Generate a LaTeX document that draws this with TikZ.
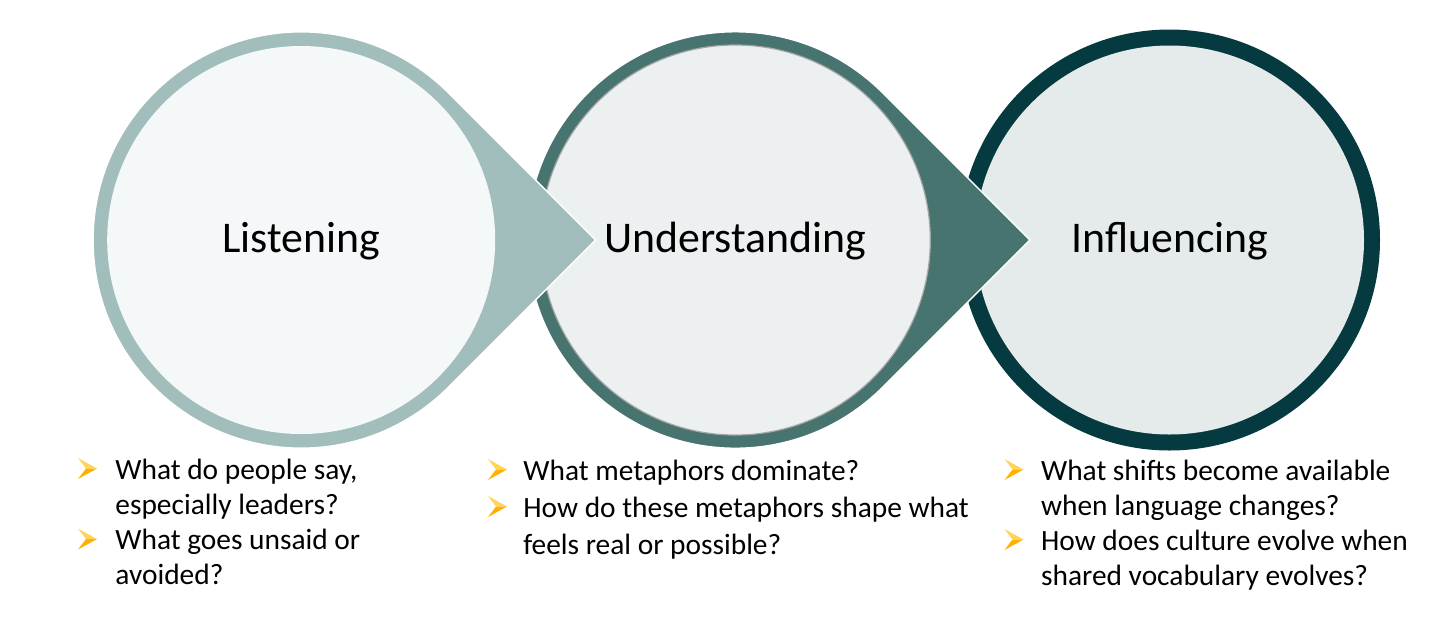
\documentclass[tikz,border=0pt]{standalone}
\usepackage{fontspec}
\setmainfont{Carlito}
\definecolor{ringA}{HTML}{A1BEBC}
\definecolor{inA}{HTML}{F4F8F8}
\definecolor{ringB}{HTML}{487470}
\definecolor{inB}{HTML}{ECF0F1}
\definecolor{ringC}{HTML}{053A40}
\definecolor{inC}{HTML}{E5EBEB}
\definecolor{bulA}{HTML}{FFD45A}
\definecolor{bulB}{HTML}{FFB000}
\newcommand\mybul[2]{%
  \fill[bulA] (#1-19,#2-10.5) -- (#1,#2) -- (#1-11,#2) -- cycle;
  \fill[bulB] (#1-19,#2+10.5) -- (#1,#2) -- (#1-11,#2) -- cycle;}
\begin{document}
\begin{tikzpicture}[x=0.5pt,y=-0.5pt,
  title/.style={font=\fontsize{21.9}{26}\selectfont, anchor=base, inner sep=0pt},
  item/.style={font=\fontsize{14.7}{17.5}\selectfont, anchor=base west, inner sep=0pt}]
\useasboundingbox[fill=white] (0,0) rectangle (1456,617);

% circle 3
\fill[ringC] (1169.5,240) circle[radius=210.5];
\fill[inC] (1169.5,240) circle[radius=194.5];

% circle 2 teardrop
\filldraw[fill=ringB, draw=white, line width=0.75pt]
  (735.3,240) ++(45:208.3)
  arc[start angle=45, end angle=315, radius=208.3]
  -- (1029.9,240) -- cycle;
\filldraw[fill=inB, draw=black!35, line width=0.6pt]
  (735.3,240) circle[radius=195];

% circle 1 teardrop
\filldraw[fill=ringA, draw=white, line width=0.75pt]
  (301.2,240) ++(45:208.2)
  arc[start angle=45, end angle=315, radius=208.2]
  -- (595.6,240) -- cycle;
\fill[inA] (301.2,240) circle[radius=194];

% titles
\node[title] (t1) at (301.3,252.3) {Listening};
\node[title] (t2) at (735.2,252.3) {Understanding};
\node[title] (t3) at (1170,252.3) {Influencing};

% group 1
\mybul{97}{468.5}
\mybul{97}{539}
\node[item] (a1) at (115,479) {What do people say,};
\node[item] (a2) at (115,514) {especially leaders?};
\node[item] (a3) at (115,549.5) {What goes unsaid or};
\node[item] (a4) at (115,584.5) {avoided?};

% group 2
\mybul{507}{469.5}
\mybul{507}{506.5}
\node[item] (b1) at (523,480) {What metaphors dominate?};
\node[item] (b2) at (523,517) {How do these metaphors shape what};
\node[item] (b3) at (523,554) {feels real or possible?};

% group 3
\mybul{1023.5}{469.5}
\mybul{1023.5}{539.5}
\node[item] (c1) at (1040.7,480) {What shifts become available};
\node[item] (c2) at (1040.7,515) {when language changes?};
\node[item] (c3) at (1040.7,550) {How does culture evolve when};
\node[item] (c4) at (1040.7,585) {shared vocabulary evolves?};
\end{tikzpicture}
\end{document}
